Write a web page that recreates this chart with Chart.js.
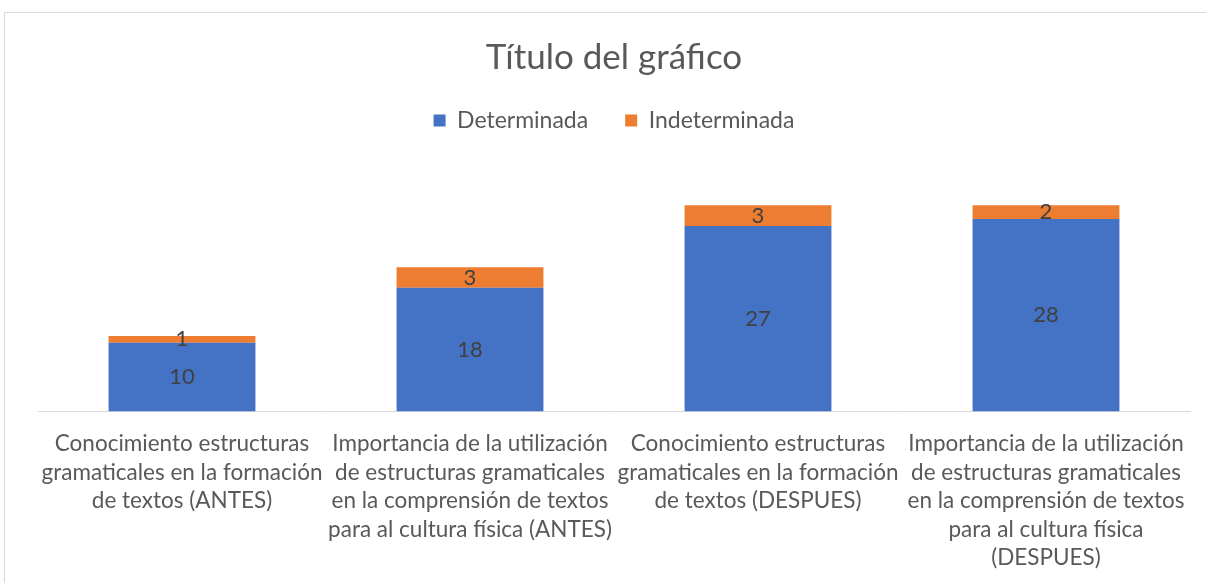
<!DOCTYPE html>
<html>
<head>
<meta charset="utf-8">
<script src="https://cdn.jsdelivr.net/npm/chart.js@4.4.1/dist/chart.umd.min.js"></script>
<style>
    html, body { margin: 0; padding: 0; background: #fff; overflow: hidden; }
    #frame { position: absolute; left: 4px; top: 12px; width: 1230px; height: 600px; border: 1px solid #d9d9d9; }
    #wrap { position: absolute; left: 0; top: 0; width: 1206px; height: 592px; }
</style>
</head>
<body>
<div id="frame"></div>
<div id="wrap"><canvas id="chart"></canvas></div>
<script>
const categories = [
    ['Conocimiento estructuras', 'gramaticales en la formación', 'de textos (ANTES)'],
    ['Importancia de la utilización', 'de estructuras gramaticales', 'en la comprensión de textos', 'para al cultura física (ANTES)'],
    ['Conocimiento estructuras', 'gramaticales en la formación', 'de textos (DESPUES)'],
    ['Importancia de la utilización', 'de estructuras gramaticales', 'en la comprensión de textos', 'para al cultura física', '(DESPUES)']
];
const determinada = [10, 18, 27, 28];
const indeterminada = [1, 3, 3, 2];

const fontFamily = 'Lato, "Open Sans", sans-serif';
const textColor = '#595959';

// value labels centred in each stacked segment
const segmentLabels = {
    id: 'segmentLabels',
    afterDatasetsDraw(chart) {
        const ctx = chart.ctx;
        ctx.save();
        ctx.font = '22px ' + fontFamily;
        ctx.fillStyle = '#404040';
        ctx.textAlign = 'center';
        ctx.textBaseline = 'middle';
        chart.data.datasets.forEach((ds, i) => {
            chart.getDatasetMeta(i).data.forEach((bar, j) => {
                ctx.fillText(ds.data[j], bar.x, (bar.y + bar.base) / 2);
            });
        });
        ctx.restore();
    }
};

// extra space between legend and plot
const legendGap = {
    id: 'legendGap',
    beforeInit(chart) {
        const fit = chart.legend.fit;
        chart.legend.fit = function () {
            fit.bind(chart.legend)();
            this.height += 29;
        };
    }
};

new Chart(document.getElementById('chart').getContext('2d'), {
    type: 'bar',
    data: {
        labels: categories,
        datasets: [{
            label: 'Determinada',
            data: determinada,
            backgroundColor: '#4472C4',
            borderWidth: 0
        }, {
            label: 'Indeterminada',
            data: indeterminada,
            backgroundColor: '#ED7D31',
            borderWidth: 0
        }]
    },
    options: {
        responsive: true,
        maintainAspectRatio: false,
        animation: false,
        categoryPercentage: 0.51,
        barPercentage: 1,
        layout: {
            padding: { left: 38, right: 16, top: 0, bottom: 10 }
        },
        plugins: {
            title: {
                display: true,
                text: 'Título del gráfico',
                color: textColor,
                font: { family: fontFamily, size: 35, weight: 'normal', lineHeight: 0.8 },
                padding: { top: 44, bottom: 0 }
            },
            legend: {
                position: 'top',
                labels: {
                    color: textColor,
                    font: { family: fontFamily, size: 23 },
                    boxWidth: 12,
                    boxHeight: 12,
                    padding: 37
                }
            },
            tooltip: { enabled: false }
        },
        scales: {
            x: {
                stacked: true,
                grid: { display: false },
                border: { display: true, color: '#d9d9d9', width: 1 },
                ticks: {
                    color: textColor,
                    font: { family: fontFamily, size: 22.5, lineHeight: '28.5px' },
                    padding: 10,
                    autoSkip: false,
                    minRotation: 0,
                    maxRotation: 0
                }
            },
            y: {
                stacked: true,
                display: false,
                min: 0,
                max: 35
            }
        }
    },
    plugins: [segmentLabels, legendGap]
});
</script>
</body>
</html>
